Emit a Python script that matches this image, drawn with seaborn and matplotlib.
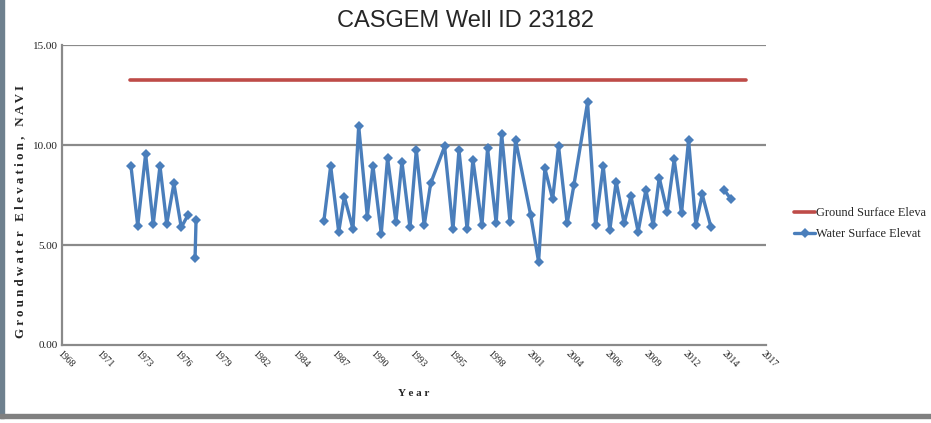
import numpy as np
import pandas as pd
import matplotlib
matplotlib.use("Agg")
import matplotlib.pyplot as plt
from matplotlib.lines import Line2D
from matplotlib.patches import Rectangle
import seaborn as sns

# Water surface readings (decimal year, elevation) - segment id marks gaps in the record
water_year = [1972.80, 1973.27, 1973.82, 1974.35, 1974.82, 1975.29, 1975.79, 1976.30, 1976.77,
              1977.33, 1977.26,
              1986.23, 1986.70, 1987.26, 1987.65, 1988.25, 1988.65, 1989.25, 1989.64, 1990.22,
              1990.66, 1991.24, 1991.66, 1992.22, 1992.66, 1993.21, 1993.66, 1994.63, 1995.21,
              1995.63, 1996.20, 1996.60, 1997.23, 1997.62, 1998.22, 1998.60, 1999.18, 1999.57,
              2000.62, 2001.17, 2001.61, 2002.15, 2002.56, 2003.16, 2003.63, 2004.58, 2005.14,
              2005.67, 2006.13, 2006.57, 2007.13, 2007.60, 2008.10, 2008.64, 2009.15, 2009.57,
              2010.12, 2010.61, 2011.12, 2011.61, 2012.12, 2012.56, 2013.16,
              2014.09, 2014.56]
water_elev = [8.95, 5.97, 9.55, 6.05, 8.95, 6.05, 8.08, 5.88, 6.50,
              6.25, 4.33,
              6.22, 8.95, 5.65, 7.42, 5.80, 10.95, 6.42, 8.97, 5.57,
              9.35, 6.17, 9.17, 5.88, 9.75, 5.98, 8.08, 9.93, 5.78,
              9.75, 5.78, 9.27, 6.00, 9.83, 6.10, 10.55, 6.17, 10.25,
              6.50, 4.17, 8.83, 7.30, 9.95, 6.08, 8.00, 12.13, 6.00,
              8.95, 5.75, 8.17, 6.08, 7.45, 5.67, 7.75, 6.00, 8.37,
              6.67, 9.28, 6.58, 10.25, 6.00, 7.53, 5.92,
              7.75, 7.30]
water_seg = [1] * 9 + [2] * 2 + [3] * 52 + [4] * 2

ground_year = [1972.73, 2015.60]
ground_elev = [13.25, 13.25]

tick_labels = ["1968", "1971", "1973", "1976", "1979", "1982", "1984", "1987", "1990", "1993",
               "1995", "1998", "2001", "2004", "2006", "2009", "2012", "2014", "2017"]
y_ticks = [0, 5, 10, 15]
legend_labels = ["Ground Surface Eleva", "Water Surface Elevat"]

water = pd.DataFrame({"year": water_year, "elev": water_elev, "seg": water_seg})
ground = pd.DataFrame({"year": ground_year, "elev": ground_elev})

sns.set_style("white")
plt.rcParams["font.family"] = ["Liberation Serif", "DejaVu Serif"]

red = "#be4b48"
blue = "#4a7ebb"
grid_c = "#8a8a8a"

fig = plt.figure(figsize=(9.31, 4.23), dpi=100)
ax = fig.add_axes([62 / 931, 1 - 345 / 423, (766 - 62) / 931, 300 / 423])

for v in y_ticks[1:]:
    ax.axhline(v, color=grid_c, lw=1.6, zorder=0)

sns.lineplot(data=ground, x="year", y="elev", color=red, lw=2.6, ax=ax,
             legend=False, zorder=2)
sns.lineplot(data=water, x="year", y="elev", units="seg", estimator=None, sort=False,
             color=blue, lw=2.4, marker="D", markersize=5, markeredgewidth=0,
             ax=ax, legend=False, zorder=3)

ax.set_xlim(1968, 2017)
ax.set_ylim(0, 15)
ax.set_xticks(np.linspace(1968, 2017, len(tick_labels)))
ax.set_xticklabels(tick_labels, rotation=-45, ha="left", va="top", rotation_mode="anchor",
                   fontsize=7)
ax.set_yticks(y_ticks)
ax.set_yticklabels([f"{v:.2f}" for v in y_ticks], fontsize=8)
ax.tick_params(axis="both", length=0, pad=3, colors="#222222")

for s in ["top", "right"]:
    ax.spines[s].set_visible(False)
for s in ["left", "bottom"]:
    ax.spines[s].set_color(grid_c)
    ax.spines[s].set_linewidth(1.6)

ax.set_xlabel("Y e a r", fontsize=8, fontweight="bold", labelpad=14)
ax.set_ylabel(" ".join("Groundwater Elevation, NAVI"), fontsize=9.4, fontweight="bold")
ax.yaxis.set_label_coords(-0.051, 0.445)

handles = [Line2D([], [], color=red, lw=2.6),
           Line2D([], [], color=blue, lw=2.4, marker="D", markersize=5, markeredgewidth=0)]
ax.legend(handles, legend_labels, loc="center left", bbox_to_anchor=(1.024, 0.405),
          frameon=False, fontsize=8.9, handlelength=1.7, handletextpad=0.1, labelspacing=0.75)

fig.text(0.5, 0.950, "CASGEM Well ID 23182", ha="center", va="center", fontsize=17,
         family=["Liberation Sans", "DejaVu Sans"])

# page frame around the chart
fig.patches.append(Rectangle((0, 5 / 423), 4 / 931, 1, transform=fig.transFigure,
                             color="#6e808e", zorder=5))
fig.patches.append(Rectangle((0, 5 / 423), 1, 4 / 423, transform=fig.transFigure,
                             color="#808080", zorder=5))

fig.savefig("out.png", dpi=100)
